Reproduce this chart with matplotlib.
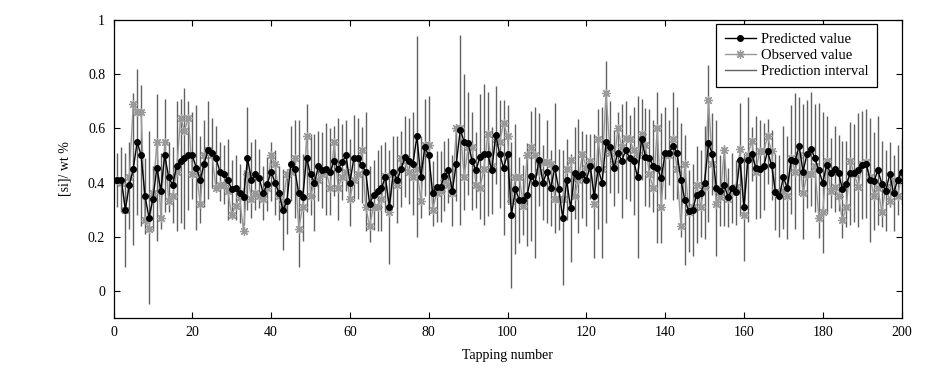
#!/usr/bin/env python3
"""
Predicted vs observed [si] content with prediction intervals, per tapping.
Writes out.png (950x371).
"""

import numpy as np
import matplotlib
matplotlib.use("Agg")
import matplotlib.pyplot as plt

# values, tap 1..200
predicted = [
    0.41, 0.41, 0.30, 0.39, 0.45, 0.55, 0.50, 0.35, 0.27, 0.34,
    0.455, 0.37, 0.50, 0.42, 0.39, 0.46, 0.48, 0.49, 0.50, 0.50,
    0.455, 0.41, 0.47, 0.52, 0.51, 0.49, 0.44, 0.43, 0.41, 0.375,
    0.38, 0.36, 0.345, 0.49, 0.41, 0.43, 0.415, 0.36, 0.395, 0.44,
    0.40, 0.36, 0.30, 0.33, 0.47, 0.45, 0.36, 0.345, 0.49, 0.43,
    0.40, 0.46, 0.445, 0.45, 0.44, 0.48, 0.45, 0.475, 0.50, 0.40,
    0.49, 0.49, 0.465, 0.44, 0.32, 0.355, 0.37, 0.38, 0.42, 0.31,
    0.44, 0.41, 0.45, 0.495, 0.48, 0.47, 0.57, 0.42, 0.53, 0.50,
    0.36, 0.385, 0.385, 0.425, 0.445, 0.37, 0.47, 0.595, 0.55, 0.545,
    0.48, 0.445, 0.495, 0.505, 0.505, 0.445, 0.575, 0.505, 0.455, 0.505,
    0.28, 0.375, 0.335, 0.335, 0.355, 0.425, 0.40, 0.485, 0.40, 0.44,
    0.38, 0.455, 0.375, 0.27, 0.41, 0.305, 0.435, 0.425, 0.43, 0.41,
    0.46, 0.35, 0.45, 0.40, 0.55, 0.53, 0.455, 0.51, 0.48, 0.52,
    0.49, 0.48, 0.42, 0.56, 0.495, 0.49, 0.46, 0.455, 0.415, 0.51,
    0.51, 0.535, 0.51, 0.41, 0.335, 0.295, 0.30, 0.355, 0.36, 0.40,
    0.545, 0.505, 0.38, 0.37, 0.39, 0.345, 0.38, 0.365, 0.485, 0.31,
    0.485, 0.505, 0.455, 0.45, 0.46, 0.515, 0.465, 0.365, 0.35, 0.42,
    0.38, 0.485, 0.48, 0.535, 0.44, 0.505, 0.525, 0.49, 0.445, 0.40,
    0.465, 0.435, 0.45, 0.435, 0.375, 0.395, 0.435, 0.435, 0.445, 0.465,
    0.47, 0.41, 0.405, 0.445, 0.395, 0.37, 0.43, 0.36, 0.41, 0.44,
]

observed = [
    0.41, 0.40, 0.30, 0.42, 0.69, 0.66, 0.66, 0.26, 0.23, 0.36,
    0.55, 0.27, 0.55, 0.33, 0.35, 0.44, 0.64, 0.59, 0.64, 0.43,
    0.44, 0.32, 0.50, 0.52, 0.50, 0.38, 0.39, 0.39, 0.37, 0.28,
    0.315, 0.345, 0.22, 0.43, 0.34, 0.36, 0.35, 0.34, 0.38, 0.50,
    0.47, 0.35, 0.32, 0.43, 0.44, 0.49, 0.23, 0.31, 0.57, 0.35,
    0.40, 0.41, 0.43, 0.44, 0.38, 0.55, 0.38, 0.42, 0.44, 0.34,
    0.41, 0.43, 0.52, 0.31, 0.24, 0.31, 0.31, 0.34, 0.425, 0.29,
    0.43, 0.39, 0.49, 0.48, 0.44, 0.42, 0.45, 0.33, 0.54, 0.54,
    0.30, 0.36, 0.37, 0.41, 0.39, 0.36, 0.60, 0.60, 0.42, 0.53,
    0.53, 0.39, 0.38, 0.45, 0.58, 0.46, 0.56, 0.55, 0.62, 0.57,
    0.33, 0.42, 0.42, 0.315, 0.50, 0.53, 0.50, 0.44, 0.475, 0.475,
    0.47, 0.34, 0.34, 0.34, 0.45, 0.485, 0.35, 0.41, 0.505, 0.455,
    0.48, 0.32, 0.56, 0.45, 0.73, 0.51, 0.47, 0.60, 0.53, 0.565,
    0.56, 0.52, 0.50, 0.58, 0.54, 0.43, 0.38, 0.60, 0.31, 0.50,
    0.50, 0.56, 0.45, 0.24, 0.47, 0.29, 0.31, 0.39, 0.31, 0.385,
    0.705, 0.47, 0.32, 0.345, 0.52, 0.34, 0.365, 0.385, 0.525, 0.28,
    0.50, 0.555, 0.44, 0.515, 0.515, 0.57, 0.515, 0.365, 0.36, 0.37,
    0.35, 0.49, 0.44, 0.50, 0.36, 0.43, 0.43, 0.46, 0.27, 0.29,
    0.48, 0.37, 0.385, 0.35, 0.26, 0.31, 0.48, 0.43, 0.385, 0.47,
    0.475, 0.42, 0.35, 0.38, 0.29, 0.385, 0.33, 0.41, 0.35, 0.42,
]

# half width of the prediction interval around each predicted value
half_width = [
    0.10, 0.12, 0.21, 0.16, 0.28, 0.27, 0.26, 0.14, 0.32, 0.12,
    0.27, 0.14, 0.21, 0.13, 0.14, 0.24, 0.23, 0.26, 0.20, 0.16,
    0.23, 0.16, 0.16, 0.18, 0.13, 0.12, 0.11, 0.11, 0.15, 0.11,
    0.12, 0.11, 0.10, 0.19, 0.14, 0.13, 0.11, 0.10, 0.10, 0.11,
    0.12, 0.10, 0.15, 0.12, 0.14, 0.18, 0.27, 0.16, 0.20, 0.15,
    0.18, 0.13, 0.14, 0.17, 0.16, 0.13, 0.19, 0.14, 0.13, 0.16,
    0.16, 0.15, 0.14, 0.22, 0.14, 0.13, 0.15, 0.16, 0.13, 0.21,
    0.13, 0.16, 0.14, 0.15, 0.16, 0.19, 0.37, 0.15, 0.18, 0.22,
    0.12, 0.13, 0.13, 0.13, 0.12, 0.13, 0.14, 0.35, 0.25, 0.19,
    0.18, 0.14, 0.23, 0.26, 0.23, 0.16, 0.18, 0.20, 0.25, 0.18,
    0.27, 0.24, 0.16, 0.13, 0.19, 0.24, 0.28, 0.17, 0.14, 0.19,
    0.14, 0.24, 0.15, 0.25, 0.15, 0.20, 0.17, 0.21, 0.16, 0.17,
    0.12, 0.23, 0.22, 0.28, 0.30, 0.17, 0.14, 0.15, 0.21, 0.18,
    0.16, 0.20, 0.30, 0.15, 0.18, 0.18, 0.17, 0.28, 0.24, 0.17,
    0.12, 0.20, 0.17, 0.21, 0.24, 0.15, 0.17, 0.18, 0.16, 0.21,
    0.29, 0.15, 0.25, 0.13, 0.15, 0.11, 0.13, 0.12, 0.21, 0.20,
    0.23, 0.10, 0.19, 0.18, 0.16, 0.12, 0.13, 0.14, 0.15, 0.19,
    0.19, 0.20, 0.25, 0.18, 0.25, 0.20, 0.21, 0.20, 0.25, 0.26,
    0.18, 0.13, 0.16, 0.14, 0.18, 0.16, 0.19, 0.18, 0.21, 0.20,
    0.20, 0.23, 0.18, 0.20, 0.16, 0.15, 0.12, 0.14, 0.13, 0.12,
]

x_ticks = [0, 20, 40, 60, 80, 100, 120, 140, 160, 180, 200]
y_ticks = [0, 0.2, 0.4, 0.6, 0.8, 1]
y_tick_labels = ["0", "0.2", "0.4", "0.6", "0.8", "1"]


def main():
    plt.rcParams["font.family"] = ["Liberation Serif", "DejaVu Serif"]
    plt.rcParams["font.size"] = 10

    pred = np.array(predicted)
    obs = np.array(observed)
    hw = np.array(half_width)
    taps = np.arange(1, len(pred) + 1)

    fig = plt.figure(figsize=(9.5, 3.71), dpi=100)
    ax = fig.add_axes([0.1195, 0.1429, 0.8295, 0.8032])

    # interval bars first, then observed, predicted on top
    ax.vlines(taps, pred - hw, pred + hw, color="0.38", linewidth=1.0, zorder=1)
    ax.plot(taps, obs, color="0.6", linewidth=1.0, marker=(8, 2, 0),
            markersize=6.5, markeredgewidth=0.9, zorder=2)
    ax.plot(taps, pred, color="k", linewidth=1.0, marker="o", markersize=4,
            markerfacecolor="k", zorder=3)

    ax.set_xlim(0, 200)
    ax.set_ylim(-0.1, 1)
    ax.set_xticks(x_ticks)
    ax.set_yticks(y_ticks)
    ax.set_yticklabels(y_tick_labels)
    ax.tick_params(direction="in", top=True, right=True, length=4, width=0.8,
                   labelsize=10, pad=6)
    for sp in ax.spines.values():
        sp.set_linewidth(0.9)

    ax.set_xlabel("Tapping number", fontsize=10, labelpad=7)
    ax.set_ylabel("[si]/ wt %", fontsize=10, labelpad=12)

    # legend proxies
    h_pred, = ax.plot([], [], color="k", linewidth=1.0, marker="o",
                      markersize=4, label="Predicted value")
    h_obs, = ax.plot([], [], color="0.6", linewidth=1.0, marker=(8, 2, 0),
                     markersize=6.5, markeredgewidth=0.9, label="Observed value")
    h_int, = ax.plot([], [], color="0.38", linewidth=1.0,
                     label="Prediction interval")
    leg = ax.legend(handles=[h_pred, h_obs, h_int], loc="upper right",
                    bbox_to_anchor=(0.969, 0.987), fancybox=False,
                    edgecolor="k", framealpha=1, fontsize=10.5,
                    handlelength=2.1, borderpad=0.6, labelspacing=0.2,
                    handletextpad=0.35, borderaxespad=0)
    leg.get_frame().set_linewidth(0.9)

    fig.savefig("out.png", dpi=100)
    plt.close(fig)


if __name__ == "__main__":
    main()
